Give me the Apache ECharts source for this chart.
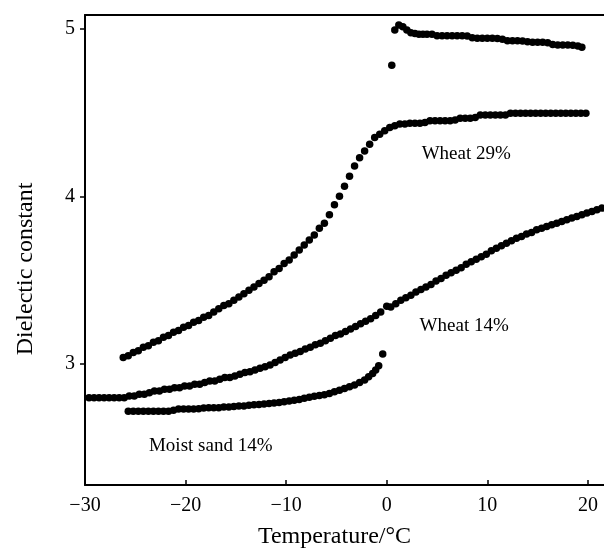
<!DOCTYPE html>
<html>
<head>
<meta charset="utf-8">
<script src="https://cdn.jsdelivr.net/npm/echarts@6/dist/echarts.min.js"></script>
<style>
html,body{margin:0;padding:0;background:#fff;}
#c{width:604px;height:548px;}
</style>
</head>
<body>
<div id="c"></div>
<script>
// Tick labels
const xTicks = [-30, -20, -10, 0, 10, 20];
const yTicks = [3, 4, 5];

// Wheat 29% (lower branch), [temperature °C, dielectric constant]
const wheat29 = [
[-26.2,3.04],[-25.7,3.05],[-25.2,3.07],[-24.7,3.08],[-24.2,3.10],[-23.7,3.11],[-23.2,3.13],[-22.7,3.14],
[-22.2,3.16],[-21.7,3.17],[-21.2,3.19],[-20.7,3.20],[-20.2,3.22],[-19.7,3.23],[-19.2,3.25],[-18.7,3.26],
[-18.2,3.28],[-17.7,3.29],[-17.2,3.31],[-16.7,3.33],[-16.2,3.35],[-15.7,3.36],[-15.2,3.38],[-14.7,3.40],
[-14.2,3.42],[-13.7,3.44],[-13.2,3.46],[-12.7,3.48],[-12.2,3.50],[-11.7,3.52],[-11.2,3.55],[-10.7,3.57],
[-10.2,3.60],[-9.7,3.62],[-9.2,3.65],[-8.7,3.68],[-8.2,3.71],[-7.7,3.74],[-7.2,3.77],[-6.7,3.81],
[-6.2,3.84],[-5.7,3.89],[-5.2,3.95],[-4.7,4.00],[-4.2,4.06],[-3.7,4.12],[-3.2,4.18],[-2.7,4.23],
[-2.2,4.27],[-1.7,4.31],[-1.2,4.35],[-0.7,4.37],[-0.2,4.39],[0.3,4.41],[0.8,4.42],[1.3,4.43],
[1.8,4.43],[2.3,4.435],[2.8,4.435],[3.3,4.435],[3.8,4.44],[4.3,4.45],[4.8,4.45],[5.3,4.45],
[5.8,4.45],[6.3,4.45],[6.8,4.455],[7.3,4.465],[7.8,4.465],[8.3,4.465],[8.8,4.47],[9.3,4.485],
[9.8,4.485],[10.3,4.485],[10.8,4.485],[11.3,4.485],[11.8,4.485],[12.3,4.495],[12.8,4.495],[13.3,4.495],
[13.8,4.495],[14.3,4.495],[14.8,4.495],[15.3,4.495],[15.8,4.495],[16.3,4.495],[16.8,4.495],[17.3,4.495],
[17.8,4.495],[18.3,4.495],[18.8,4.495],[19.3,4.495],[19.8,4.495]
];

// Upper branch above 0 °C
const upper = [
[0.5,4.78],[0.8,4.99],[1.2,5.02],[1.6,5.01],[2.0,4.99],[2.4,4.975],[2.8,4.97],[3.2,4.965],
[3.6,4.965],[4.0,4.965],[4.5,4.965],[5.0,4.957],[5.5,4.957],[6.0,4.957],[6.5,4.957],[7.0,4.957],
[7.5,4.957],[8.0,4.955],[8.5,4.945],[9.0,4.941],[9.5,4.941],[10.0,4.941],[10.5,4.941],[11.0,4.94],
[11.5,4.935],[12.0,4.927],[12.5,4.927],[13.0,4.927],[13.5,4.925],[14.0,4.92],[14.5,4.918],[15.0,4.918],
[15.5,4.918],[16.0,4.915],[16.5,4.905],[17.0,4.902],[17.5,4.902],[18.0,4.902],[18.5,4.90],[19.0,4.895],
[19.4,4.888]
];

// Wheat 14%
const wheat14 = [
[-29.6,2.80],[-29.1,2.80],[-28.6,2.80],[-28.1,2.80],[-27.6,2.80],[-27.1,2.80],[-26.6,2.80],[-26.1,2.80],
[-25.6,2.81],[-25.1,2.81],[-24.6,2.82],[-24.1,2.82],[-23.6,2.83],[-23.1,2.84],[-22.6,2.84],[-22.1,2.85],
[-21.6,2.85],[-21.1,2.86],[-20.6,2.86],[-20.1,2.87],[-19.6,2.87],[-19.1,2.88],[-18.6,2.88],[-18.1,2.89],
[-17.6,2.90],[-17.1,2.90],[-16.6,2.91],[-16.1,2.92],[-15.6,2.92],[-15.1,2.93],[-14.6,2.94],[-14.1,2.95],
[-13.6,2.955],[-13.1,2.965],[-12.6,2.975],[-12.1,2.985],[-11.6,2.995],[-11.1,3.01],[-10.6,3.025],[-10.1,3.04],
[-9.6,3.055],[-9.1,3.065],[-8.6,3.075],[-8.1,3.09],[-7.6,3.10],[-7.1,3.115],[-6.6,3.125],[-6.1,3.14],
[-5.6,3.155],[-5.1,3.17],[-4.6,3.18],[-4.1,3.195],[-3.6,3.21],[-3.1,3.225],[-2.6,3.24],[-2.1,3.255],
[-1.6,3.27],[-1.1,3.29],[-0.6,3.31],[0.0,3.345],[0.4,3.34],[0.9,3.36],[1.4,3.38],[1.9,3.395],
[2.4,3.41],[2.9,3.43],[3.4,3.445],[3.9,3.46],[4.4,3.475],[4.9,3.495],[5.4,3.51],[5.9,3.53],
[6.4,3.545],[6.9,3.56],[7.4,3.575],[7.9,3.595],[8.4,3.61],[8.9,3.625],[9.4,3.64],[9.9,3.655],
[10.4,3.675],[10.9,3.69],[11.4,3.705],[11.9,3.72],[12.4,3.735],[12.9,3.75],[13.4,3.76],[13.9,3.775],
[14.4,3.785],[14.9,3.80],[15.4,3.81],[15.9,3.82],[16.4,3.83],[16.9,3.84],[17.4,3.85],[17.9,3.86],
[18.4,3.87],[18.9,3.88],[19.4,3.89],[19.9,3.90],[20.4,3.91],[20.9,3.92],[21.4,3.93]
];

// Moist sand 14%
const moistSand = [
[-25.7,2.72],[-25.2,2.72],[-24.7,2.72],[-24.2,2.72],[-23.7,2.72],[-23.2,2.72],[-22.7,2.72],[-22.2,2.72],
[-21.7,2.72],[-21.2,2.725],[-20.7,2.733],[-20.2,2.733],[-19.7,2.733],[-19.2,2.733],[-18.7,2.735],[-18.2,2.738],
[-17.7,2.74],[-17.2,2.74],[-16.7,2.74],[-16.2,2.745],[-15.7,2.745],[-15.2,2.748],[-14.7,2.75],[-14.2,2.75],
[-13.7,2.755],[-13.2,2.758],[-12.7,2.76],[-12.2,2.762],[-11.7,2.765],[-11.2,2.768],[-10.7,2.772],[-10.2,2.776],
[-9.7,2.78],[-9.2,2.785],[-8.7,2.79],[-8.2,2.797],[-7.7,2.803],[-7.2,2.808],[-6.7,2.813],[-6.2,2.818],
[-5.7,2.825],[-5.2,2.835],[-4.7,2.845],[-4.2,2.855],[-3.7,2.865],[-3.2,2.876],[-2.7,2.89],[-2.2,2.905],
[-1.8,2.925],[-1.4,2.945],[-1.1,2.965],[-0.8,2.99],[-0.4,3.06]
];

// Annotation labels, anchored in data coordinates
const annotations = [
  {name: 'Wheat 29%', value: [7.9, 4.25]},
  {name: 'Wheat 14%', value: [7.7, 3.23]},
  {name: 'Moist sand 14%', value: [-17.5, 2.515]}
];

const serif = '"Liberation Serif", "Times New Roman", serif';
const minus = v => (v < 0 ? '\u2212' + Math.abs(v) : String(v));

function dots(name, data) {
  return {name, type: 'scatter', data, symbol: 'circle', symbolSize: 7.5,
          itemStyle: {color: '#000', opacity: 1}, silent: true, animation: false, z: 3};
}

const chart = echarts.init(document.getElementById('c'), null, {renderer: 'canvas'});
chart.setOption({
  backgroundColor: '#fff',
  animation: false,
  grid: {left: 85, right: 0, top: 15, bottom: 63, containLabel: false, outerBoundsMode: 'none'},
  xAxis: [{
    type: 'value', min: -30, max: 21.6, position: 'bottom',
    name: 'Temperature/°C', nameLocation: 'middle', nameGap: 40,
    nameTextStyle: {fontFamily: serif, fontSize: 24, color: '#000', padding: [0, 20, 0, 0]},
    axisLine: {show: true, onZero: false, lineStyle: {color: '#000', width: 2}},
    axisTick: {show: true, inside: true, length: 5, customValues: xTicks, lineStyle: {color: '#000', width: 1.5}},
    axisLabel: {customValues: xTicks, formatter: minus, margin: 11, fontFamily: serif, fontSize: 20, color: '#000'},
    splitLine: {show: false}
  }, {
    type: 'value', min: -30, max: 21.6, position: 'top',
    axisLine: {show: true, onZero: false, lineStyle: {color: '#000', width: 2}},
    axisTick: {show: false}, axisLabel: {show: false}, splitLine: {show: false}
  }],
  yAxis: {
    type: 'value', min: 2.28, max: 5.08,
    name: 'Dielectic constant', nameLocation: 'middle', nameGap: 47, nameRotate: 90,
    nameTextStyle: {fontFamily: serif, fontSize: 24, color: '#000', padding: [0, 38, 0, 0]},
    axisLine: {show: true, onZero: false, lineStyle: {color: '#000', width: 2}},
    axisTick: {show: true, inside: false, length: 5, customValues: yTicks, lineStyle: {color: '#000', width: 1.5}},
    axisLabel: {customValues: yTicks, margin: 10, fontFamily: serif, fontSize: 20, color: '#000'},
    splitLine: {show: false}
  },
  series: [
    dots('Wheat 29%', wheat29),
    dots('Upper', upper),
    dots('Wheat 14%', wheat14),
    dots('Moist sand 14%', moistSand),
    {
      type: 'scatter', data: annotations, symbolSize: 0, silent: true, z: 4,
      itemStyle: {opacity: 1},
      label: {show: true, position: 'inside', formatter: p => p.name,
              fontFamily: serif, fontSize: 19, color: '#000'}
    }
  ]
});
</script>
</body>
</html>
